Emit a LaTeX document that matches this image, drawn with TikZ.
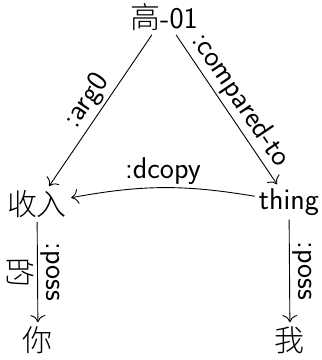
\documentclass[tikz,border=0pt]{standalone}
\usepackage{fontspec}
\newfontfamily\cjk[UprightFont=* Light]{Noto Sans CJK SC}
\usetikzlibrary{arrows.meta}
\begin{document}
\begin{tikzpicture}[x=1pt,y=-1pt,
  every node/.style={font=\fontsize{30}{36}\selectfont\sffamily, inner sep=4pt},
  lbl/.style={font=\fontsize{30}{36}\selectfont\sffamily, inner sep=3pt},
  edge/.style={-{To[scale=2]}, line width=0.9pt}]
\useasboundingbox (0,0) rectangle (322,360);
\node (gao) at (164,17) {{\cjk 高}-01};
\node (shouru) at (37,204) {\cjk 收入};
\node (thing) at (289,202) {thing};
\node (ni) at (38,340) {\cjk 你};
\node (wo) at (290,340) {\cjk 我};
\draw[edge] (gao) -- node[lbl, sloped, above] {:arg0} (shouru);
\draw[edge] (gao) -- node[lbl, sloped, above] {:compared-to} (thing);
\draw[edge] (thing) to[bend right=10] node[lbl, above] {:dcopy} (shouru);
\draw[edge] (shouru) -- node[lbl, sloped, above] {:poss} node[lbl, sloped, below] {\cjk 的} (ni);
\draw[edge] (thing) -- node[lbl, sloped, above] {:poss} (wo);
\end{tikzpicture}
\end{document}
